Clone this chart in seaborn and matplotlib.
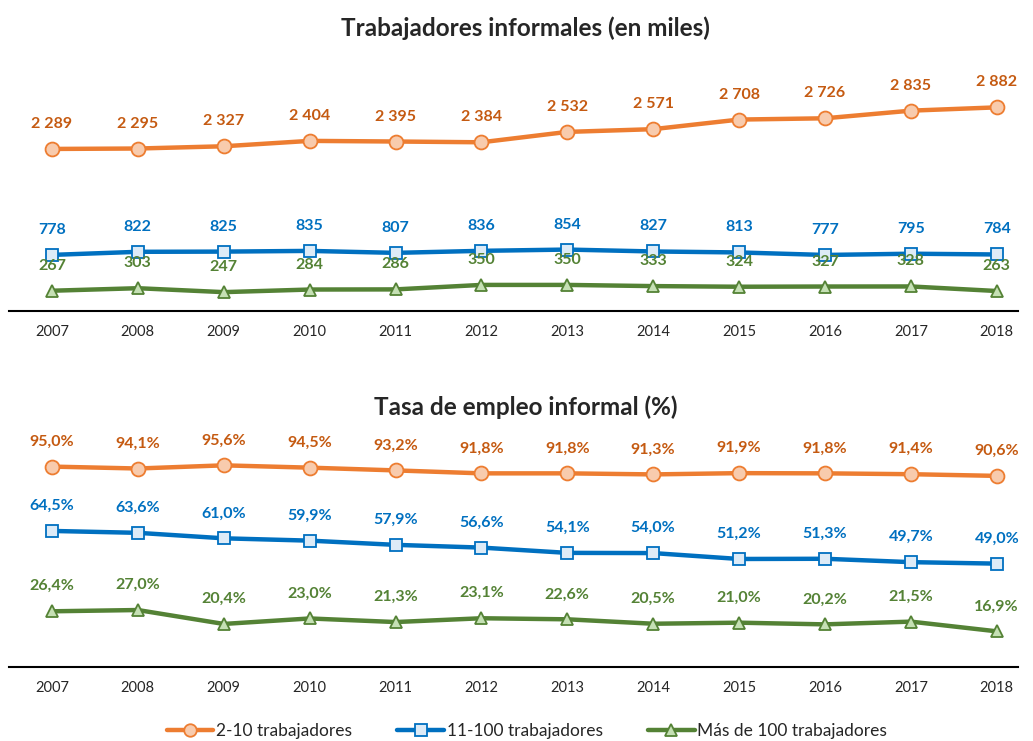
import pandas as pd
import matplotlib.pyplot as plt
from matplotlib.lines import Line2D
import seaborn as sns

# data
years = list(range(2007, 2019))
series_names = ['2-10 trabajadores', '11-100 trabajadores', 'Más de 100 trabajadores']

miles_2_10 = [2289, 2295, 2327, 2404, 2395, 2384, 2532, 2571, 2708, 2726, 2835, 2882]
miles_11_100 = [778, 822, 825, 835, 807, 836, 854, 827, 813, 777, 795, 784]
miles_100 = [267, 303, 247, 284, 286, 350, 350, 333, 324, 327, 328, 263]

tasa_2_10 = [95.0, 94.1, 95.6, 94.5, 93.2, 91.8, 91.8, 91.3, 91.9, 91.8, 91.4, 90.6]
tasa_11_100 = [64.5, 63.6, 61.0, 59.9, 57.9, 56.6, 54.1, 54.0, 51.2, 51.3, 49.7, 49.0]
tasa_100 = [26.4, 27.0, 20.4, 23.0, 21.3, 23.1, 22.6, 20.5, 21.0, 20.2, 21.5, 16.9]

line_colors = ['#ED7D31', '#0070C0', '#548235']
face_colors = ['#F8CBAD', '#DDEBF7', '#C5E0B4']
label_colors = ['#C55A11', '#0070C0', '#548235']
markers = ['o', 's', '^']

sns.set_theme(style='white')
plt.rcParams['font.family'] = ['Lato', 'DejaVu Sans']


def fmt_miles(v):
    return f'{v:,}'.replace(',', ' ')


def fmt_pct(v):
    return f'{v:.1f}%'.replace('.', ',')


def draw_panel(ax, values, fmt):
    for i, vals in enumerate(values):
        df = pd.DataFrame({'year': years, 'value': vals})
        sns.lineplot(data=df, x='year', y='value', ax=ax, color=line_colors[i],
                     linewidth=3.2, marker=markers[i], markersize=10 if i == 0 else 9,
                     markerfacecolor=face_colors[i], markeredgecolor=line_colors[i],
                     markeredgewidth=1.3, zorder=2)
    for i, vals in enumerate(values):
        for x, y in zip(years, vals):
            ax.annotate(fmt(y), (x, y), xytext=(0, 18), textcoords='offset points',
                        ha='center', va='center', fontsize=11.5, fontweight='bold',
                        color=label_colors[i], zorder=5)
    ax.set_xlim(2006.5, 2018.25)
    ax.set_xticks(years)
    ax.set_xticklabels([str(y) for y in years], fontsize=10.5)
    ax.set_yticks([])
    ax.set_xlabel('')
    ax.set_ylabel('')
    for s in ['top', 'left', 'right']:
        ax.spines[s].set_visible(False)
    ax.spines['bottom'].set_color('black')
    ax.spines['bottom'].set_linewidth(1.5)
    ax.tick_params(axis='x', length=0, pad=10)
    ax.set_facecolor('none')


fig = plt.figure(figsize=(10.33, 7.41), dpi=100)
ax1 = fig.add_axes([0.0087, 0.5803, 0.977, 0.3333])
ax2 = fig.add_axes([0.0087, 0.0999, 0.977, 0.3131])

draw_panel(ax1, [miles_2_10, miles_11_100, miles_100], fmt_miles)
ax1.set_ylim(-22, 3500)
draw_panel(ax2, [tasa_2_10, tasa_11_100, tasa_100], fmt_pct)
ax2.set_ylim(0, 110)

fig.text(0.509, 0.962, 'Trabajadores informales (en miles)', ha='center', va='center',
         fontsize=17.5, fontweight='bold')
fig.text(0.509, 0.451, 'Tasa de empleo informal (%)', ha='center', va='center',
         fontsize=17.5, fontweight='bold')

handles = [Line2D([0], [0], color=line_colors[i], linewidth=3.2, marker=markers[i],
                  markersize=9, markerfacecolor=face_colors[i],
                  markeredgecolor=line_colors[i], markeredgewidth=1.3)
           for i in range(3)]
fig.legend(handles, series_names, loc='center', bbox_to_anchor=(0.51, 0.013),
           ncol=3, frameon=False, fontsize=12.5, handlelength=2.7,
           columnspacing=2.6, handletextpad=0.15)

fig.savefig('out.png', dpi=100)
